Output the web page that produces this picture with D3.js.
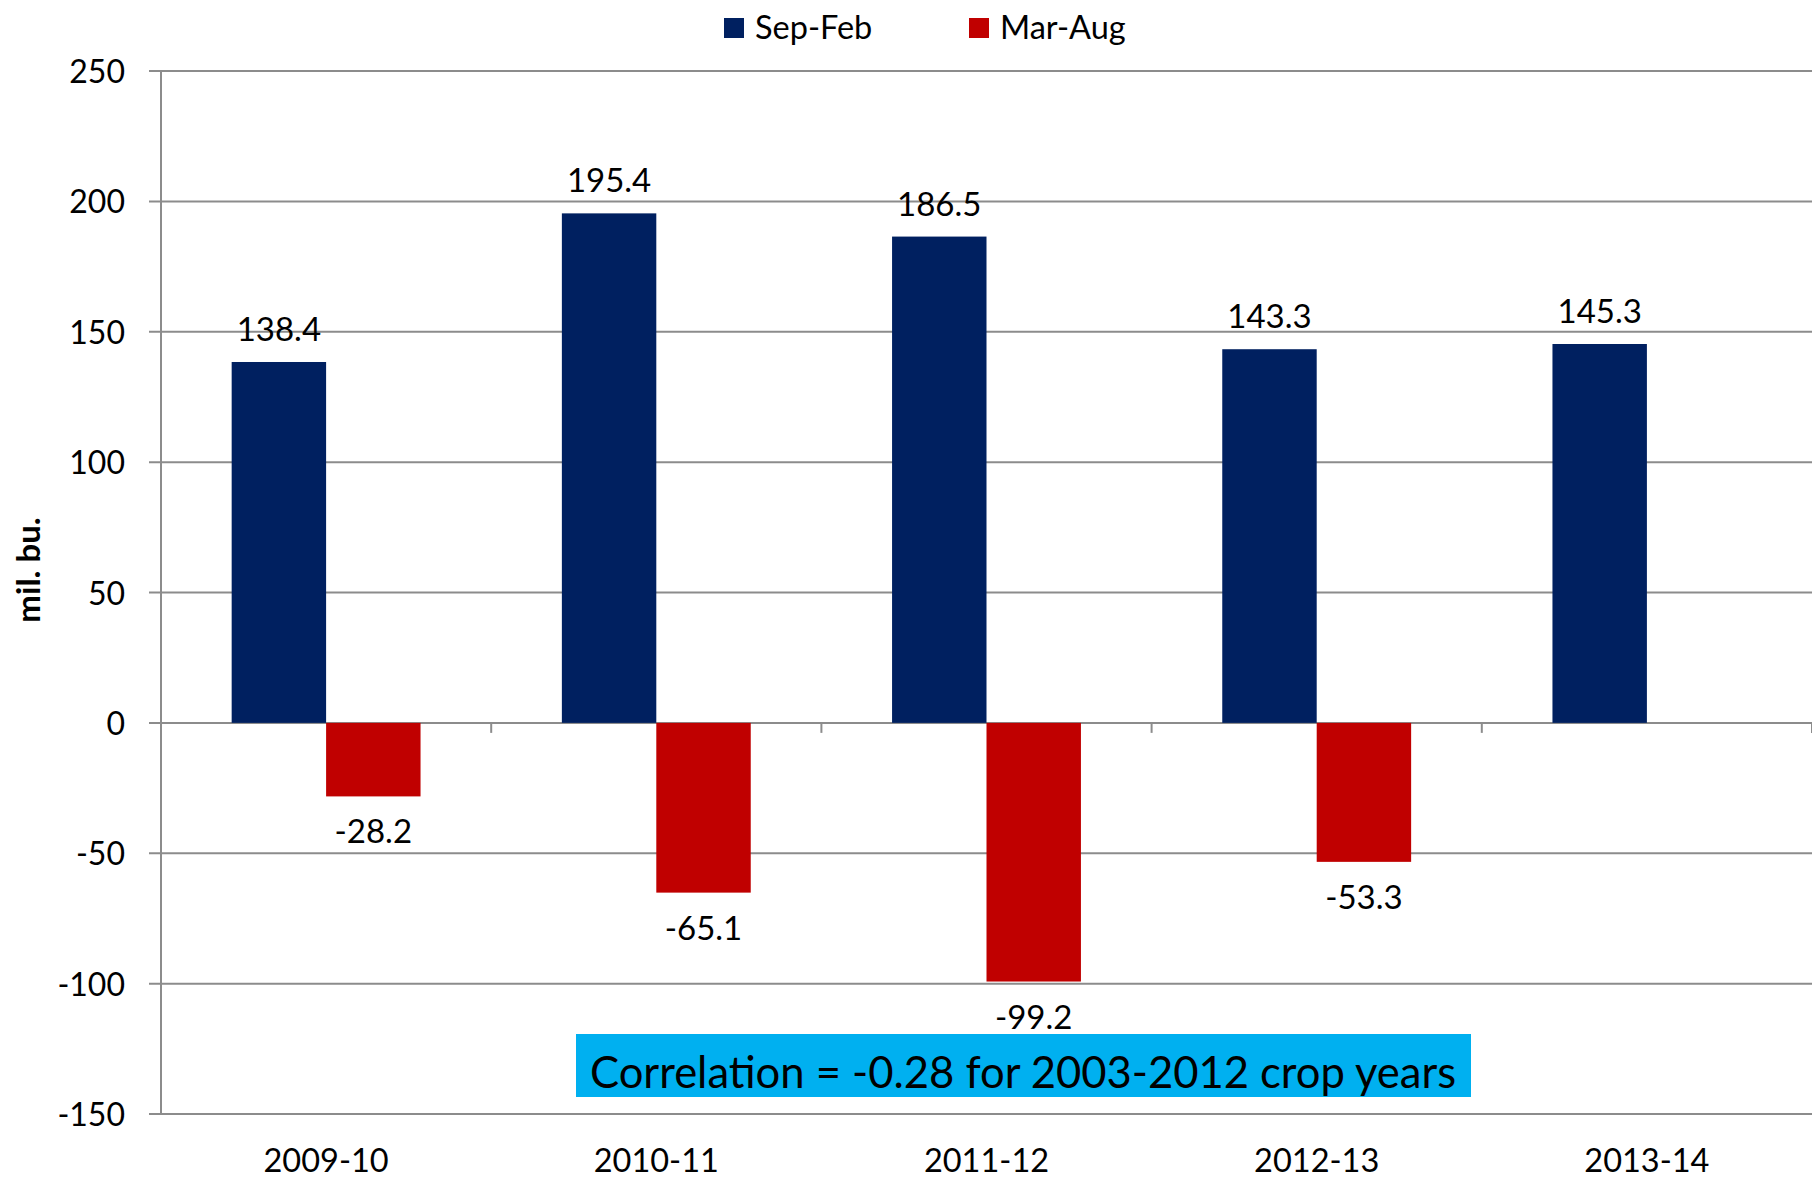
<!DOCTYPE html>
<html>
<head>
<meta charset="utf-8">
<script src="https://cdn.jsdelivr.net/npm/d3@7"></script>
<style>
  body { margin: 0; background: #fff; }
  svg text { font-family: Lato, "Liberation Sans", sans-serif; fill: #000; }
</style>
</head>
<body>
<div id="chart"></div>
<script>
// crop years and the two half-year series (mil. bu.)
var years = ['2009-10', '2010-11', '2011-12', '2012-13', '2013-14'];
var sepFeb = [138.4, 195.4, 186.5, 143.3, 145.3];
var marAug = [-28.2, -65.1, -99.2, -53.3, null];
var yTicks = [250, 200, 150, 100, 50, 0, -50, -100, -150];
var seriesNames = ['Sep-Feb', 'Mar-Aug'];
var seriesColors = ['#002060', '#C00000'];
var note = 'Correlation = -0.28 for 2003-2012 crop years';

var width = 1812, height = 1178;
var margin = { top: 71, right: 0, bottom: 64, left: 161 };

var svg = d3.select('#chart')
  .append('svg')
  .attr('width', width)
  .attr('height', height);

var x = d3.scaleBand()
  .domain(years)
  .range([margin.left, width - margin.right]);

var y = d3.scaleLinear()
  .domain([-150, 250])
  .range([height - margin.bottom, margin.top]);

var barW = x.bandwidth() * 0.286;
var offs = (x.bandwidth() - 2 * barW) / 2;

// gridlines
svg.append('g')
  .selectAll('line.grid')
  .data(yTicks)
  .enter().append('line')
  .attr('class', 'grid')
  .attr('x1', margin.left - 12)
  .attr('x2', width)
  .attr('y1', function(d) { return y(d); })
  .attr('y2', function(d) { return y(d); })
  .attr('stroke', '#8c8c8c')
  .attr('stroke-width', 2);

// y axis line
svg.append('line')
  .attr('x1', margin.left)
  .attr('x2', margin.left)
  .attr('y1', y(250))
  .attr('y2', y(-150))
  .attr('stroke', '#8c8c8c')
  .attr('stroke-width', 2);

// y tick labels
svg.append('g')
  .selectAll('text.ytick')
  .data(yTicks)
  .enter().append('text')
  .attr('class', 'ytick')
  .attr('x', 125)
  .attr('y', function(d) { return y(d) + 12; })
  .attr('text-anchor', 'end')
  .attr('font-size', 32)
  .text(function(d) { return d; });

// category ticks on the zero line
svg.append('g')
  .selectAll('line.xtick')
  .data(years)
  .enter().append('line')
  .attr('class', 'xtick')
  .attr('x1', function(d) { return x(d) + x.bandwidth(); })
  .attr('x2', function(d) { return x(d) + x.bandwidth(); })
  .attr('y1', y(0))
  .attr('y2', y(0) + 10)
  .attr('stroke', '#8c8c8c')
  .attr('stroke-width', 2);

// bars
var series = [sepFeb, marAug];
series.forEach(function(vals, s) {
  var g = svg.append('g').attr('class', 'series');
  var pts = years.map(function(yr, i) { return { yr: yr, v: vals[i] }; })
    .filter(function(d) { return d.v !== null; });

  g.selectAll('rect')
    .data(pts)
    .enter().append('rect')
    .attr('x', function(d) { return x(d.yr) + offs + s * barW; })
    .attr('y', function(d) { return y(Math.max(0, d.v)); })
    .attr('width', barW)
    .attr('height', function(d) { return Math.abs(y(d.v) - y(0)); })
    .attr('fill', seriesColors[s]);

  g.selectAll('text')
    .data(pts)
    .enter().append('text')
    .attr('x', function(d) { return x(d.yr) + offs + s * barW + barW / 2; })
    .attr('y', function(d) { return d.v >= 0 ? y(d.v) - 21 : y(d.v) + 47; })
    .attr('text-anchor', 'middle')
    .attr('font-size', 33)
    .text(function(d) { return d.v.toFixed(1); });
});

// x labels
svg.append('g')
  .selectAll('text.xlab')
  .data(years)
  .enter().append('text')
  .attr('class', 'xlab')
  .attr('x', function(d) { return x(d) + x.bandwidth() / 2; })
  .attr('y', 1172)
  .attr('text-anchor', 'middle')
  .attr('font-size', 32.5)
  .text(function(d) { return d; });

// y axis title
svg.append('text')
  .attr('transform', 'translate(40,570) rotate(-90)')
  .attr('text-anchor', 'middle')
  .attr('font-size', 33)
  .attr('font-weight', 'bold')
  .text('mil. bu.');

// correlation note
svg.append('rect')
  .attr('x', 576)
  .attr('y', 1034)
  .attr('width', 895)
  .attr('height', 63)
  .attr('fill', '#00B0F0');

svg.append('text')
  .attr('x', 1023)
  .attr('y', 1088)
  .attr('text-anchor', 'middle')
  .attr('font-size', 45)
  .attr('textLength', 866)
  .attr('lengthAdjust', 'spacingAndGlyphs')
  .text(note);

// legend
var legend = svg.append('g')
  .selectAll('g.legend')
  .data(seriesNames)
  .enter().append('g')
  .attr('class', 'legend')
  .attr('transform', function(d, i) { return 'translate(' + (724 + i * 245) + ',18)'; });

legend.append('rect')
  .attr('width', 20)
  .attr('height', 20)
  .attr('fill', function(d, i) { return seriesColors[i]; });

legend.append('text')
  .attr('x', 31)
  .attr('y', 21)
  .attr('font-size', 32.5)
  .text(function(d) { return d; });
</script>
</body>
</html>
